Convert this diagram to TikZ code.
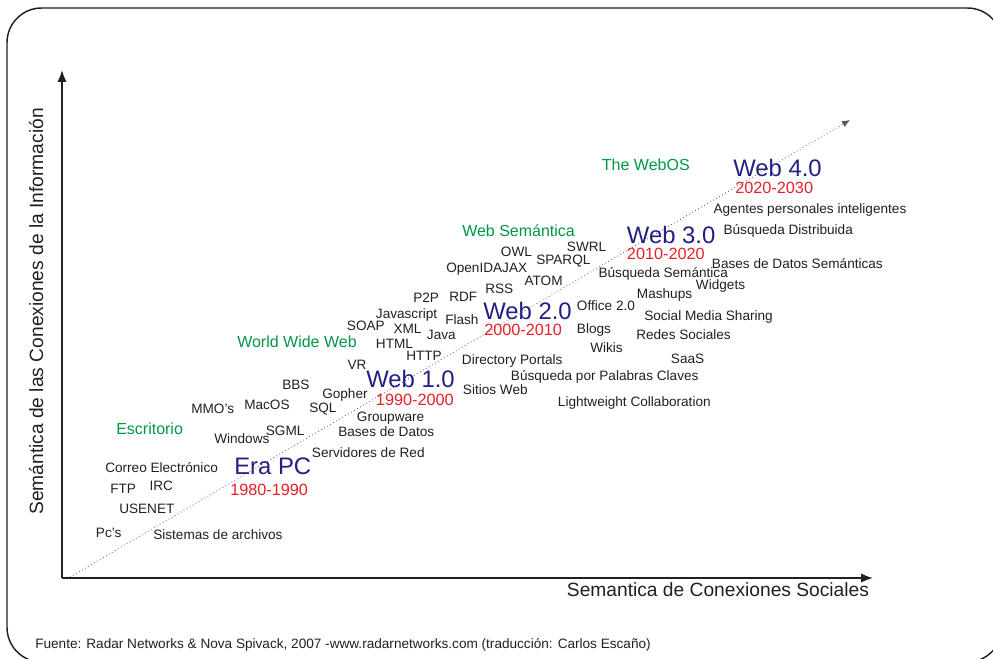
\documentclass[tikz,border=0pt]{standalone}
\usepackage{fontspec}
\setmainfont{Liberation Sans}
\usetikzlibrary{arrows.meta}
\definecolor{webgreen}{RGB}{0,150,70}
\definecolor{webblue}{RGB}{35,30,130}
\definecolor{webred}{RGB}{228,32,40}
\definecolor{ink}{RGB}{35,31,32}
\tikzset{
    tech/.style={anchor=base west,inner sep=0pt,text=ink,font=\fontsize{10.2}{12}\selectfont},
    era/.style={anchor=base west,inner sep=0pt,text=webblue,font=\fontsize{17.9}{20}\selectfont},
    years/.style={anchor=base west,inner sep=0pt,text=webred,font=\fontsize{12.2}{14}\selectfont},
    stage/.style={anchor=base west,inner sep=0pt,text=webgreen,font=\fontsize{12}{14}\selectfont},
    axislabel/.style={anchor=base west,inner sep=0pt,text=ink,font=\fontsize{14.4}{16}\selectfont},
    axis/.style={-{Latex[length=9pt,width=7pt]},line width=1.3pt,draw=ink},
    trend/.style={-{Latex[length=6pt,width=5pt]},dotted,line width=0.6pt,draw=ink!75}
}

\begin{document}
\begin{tikzpicture}[x=0.75pt,y=-0.75pt]
    \useasboundingbox (0,0) rectangle (993,659);
    \clip (0,0) rectangle (993,659);
    \draw[ink,line width=1.1pt,rounded corners=26pt] (7,8) rectangle (1002,662);

    % axes and trend
    \coordinate (origin) at (62,578);
    \coordinate (ytip) at (62,70);
    \coordinate (xtip) at (873,578);
    \coordinate (trendstart) at (70,577);
    \coordinate (trendend) at (850,120);
    \draw[trend] (trendstart) -- (trendend);
    \draw[axis] (origin) -- (ytip);
    \draw[axis] (origin) -- (xtip);

    \node[axislabel,rotate=90] (ylabel) at (43,515) {Semántica de las Conexiones de la Información};
    \node[axislabel] (xlabel) at (566.7,596) {Semantica de Conexiones Sociales};

    % stages
    \node[stage] (webos) at (601.7,170.7) {The WebOS};
    \node[stage] (websem) at (462,236.7) {Web Semántica};
    \node[stage] (www) at (237,347.3) {World Wide Web};
    \node[stage] (escritorio) at (116,434) {Escritorio};

    % eras
    \node[era] (web4) at (733,176.7) {Web 4.0};
    \node[era] (web3) at (626.7,243.3) {Web 3.0};
    \node[era] (web2) at (483,319.3) {Web 2.0};
    \node[era] (web1) at (366,387.8) {Web 1.0};
    \node[era] (erapc) at (234,474) {Era PC};

    \node[years] (y4) at (735,193.2) {2020-2030};
    \node[years] (y3) at (626.7,260) {2010-2020};
    \node[years] (y2) at (484,336) {2000-2010};
    \node[years] (y1) at (375.7,406) {1990-2000};
    \node[years] (y0) at (230,495) {1980-1990};

    % web 4.0 and web 3.0
    \node[tech] (agentes) at (713.3,213.3) {Agentes personales inteligentes};
    \node[tech] (distribuida) at (723.3,235) {Búsqueda Distribuida};
    \node[tech] (bdsem) at (711.7,268.3) {Bases de Datos Semánticas};
    \node[tech] (swrl) at (566.7,251.7) {SWRL};
    \node[tech] (owl) at (500.7,256.7) {OWL};
    \node[tech] (sparql) at (536,264.3) {SPARQL};
    \node[tech] (openid) at (446,272.7) {OpenIDAJAX};
    \node[tech] (atom) at (524.3,285.7) {ATOM};
    \node[tech] (bsem) at (598.3,277.3) {Búsqueda Semántica};
    \node[tech] (rss) at (485,294) {RSS};
    \node[tech] (widgets) at (695.7,290) {Widgets};
    \node[tech] (mashups) at (636.7,298.3) {Mashups};

    % web 2.0
    \node[tech] (p2p) at (413,302.7) {P2P};
    \node[tech] (rdf) at (449,302) {RDF};
    \node[tech] (office) at (576.7,310.7) {Office 2.0};
    \node[tech] (javascript) at (375.7,318.3) {Javascript};
    \node[tech] (flash) at (445,324.3) {Flash};
    \node[tech] (sharing) at (644,321) {Social Media Sharing};
    \node[tech] (soap) at (346.7,331) {SOAP};
    \node[tech] (xml) at (393.3,333.3) {XML};
    \node[tech] (java) at (426.7,340) {Java};
    \node[tech] (blogs) at (576.7,333.3) {Blogs};
    \node[tech] (redes) at (636,340) {Redes Sociales};
    \node[tech] (html) at (375.7,348.3) {HTML};
    \node[tech] (wikis) at (590,352.7) {Wikis};
    \node[tech] (http) at (406,361) {HTTP};
    \node[tech] (directory) at (461.7,364) {Directory Portals};
    \node[tech] (saas) at (670.7,363.3) {SaaS};
    \node[tech] (vr) at (347.3,369.3) {VR};
    \node[tech] (palabras) at (510.7,381) {Búsqueda por Palabras Claves};
    \node[tech] (sitios) at (462.7,395) {Sitios Web};
    \node[tech] (lightweight) at (557.7,406.7) {Lightweight Collaboration};

    % web 1.0
    \node[tech] (bbs) at (282,389.3) {BBS};
    \node[tech] (gopher) at (322,398.3) {Gopher};
    \node[tech] (mmo) at (191,413.3) {MMO's};
    \node[tech] (macos) at (244,410) {MacOS};
    \node[tech] (sql) at (309,412.7) {SQL};
    \node[tech] (groupware) at (356.7,421.7) {Groupware};
    \node[tech] (sgml) at (265.6,435.7) {SGML};
    \node[tech] (windows) at (214,443.3) {Windows};
    \node[tech] (bd) at (338,436) {Bases de Datos};
    \node[tech] (servidores) at (311.7,457.7) {Servidores de Red};

    % era pc
    \node[tech] (correo) at (105,472.3) {Correo Electrónico};
    \node[tech] (ftp) at (110,493.3) {FTP};
    \node[tech] (irc) at (149.3,490.7) {IRC};
    \node[tech] (usenet) at (119,513.3) {USENET};
    \node[tech] (pcs) at (95.7,537.3) {Pc's};
    \node[tech] (archivos) at (153,539.3) {Sistemas de archivos};

    \node[tech] (fuente) at (35,648) {Fuente: Radar Networks \& Nova Spivack, 2007 -www.radarnetworks.com (traducción: Carlos Escaño)};
\end{tikzpicture}
\end{document}
